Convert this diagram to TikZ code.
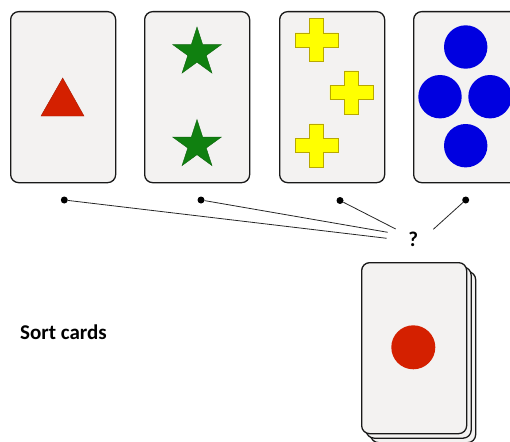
\documentclass[tikz,border=0pt]{standalone}
\usepackage{fontspec}
\setmainfont{Carlito}
\definecolor{cardfill}{HTML}{F3F2F1}
\definecolor{trired}{HTML}{D42000}
\definecolor{stargreen}{HTML}{108010}
\definecolor{crossyellow}{HTML}{FFFF00}
\definecolor{crossedge}{HTML}{B8A800}
\definecolor{dotblue}{HTML}{0000E0}
\newcommand\mystar[2]{\filldraw[starst] (#1,#2) +(-90:25.5) -- +(-54:9.7) -- +(-18:25.5) -- +(18:9.7) -- +(54:25.5) -- +(90:9.7) -- +(126:25.5) -- +(162:9.7) -- +(198:25.5) -- +(234:9.7) -- cycle;}
\newcommand\mycross[2]{\filldraw[crossst] (#1,#2) +(-7,-21.5) -- +(7,-21.5) -- +(7,-7) -- +(21.5,-7) -- +(21.5,7) -- +(7,7) -- +(7,21.5) -- +(-7,21.5) -- +(-7,7) -- +(-21.5,7) -- +(-21.5,-7) -- +(-7,-7) -- cycle;}
\begin{document}
\begin{tikzpicture}[x=1pt,y=-1pt,
  card/.style={draw=black!90, line width=1.3pt, fill=cardfill, rounded corners=8pt,
    minimum width=105pt, minimum height=171pt, inner sep=0pt, anchor=north west},
  starst/.style={fill=stargreen, draw=stargreen!80!black, line width=0.4pt},
  crossst/.style={fill=crossyellow, draw=crossedge, line width=0.6pt},
  tri/.style={fill=trired, draw=trired!80!black, line width=0.4pt},
  bluedot/.style={fill=dotblue},
  dot/.style={circle, fill=black, inner sep=0pt, minimum size=7pt},
  conn/.style={draw=black!85, line width=0.8pt},
  lbl/.style={font=\bfseries\fontsize{21}{21}\selectfont, inner sep=0pt}
]
\clip (0,0) rectangle (510,441);
% top cards
\node[card] (c1) at (10,11) {};
\node[card] (c2) at (144,11) {};
\node[card] (c3) at (279,11) {};
\node[card] (c4) at (413,11) {};
% card 1: triangle
\filldraw[tri] (62.7,78) -- (84,116) -- (41,116) -- cycle;
% card 2: stars
\mystar{197}{52.5}
\mystar{197}{145}
% card 3: crosses
\mycross{316.5}{40}
\mycross{351.3}{92.5}
\mycross{316.5}{145.3}
% card 4: circles
\fill[bluedot] (465.7,47) circle (21.7);
\fill[bluedot] (440,96.7) circle (21.7);
\fill[bluedot] (490,96.7) circle (21.7);
\fill[bluedot] (465.7,145.7) circle (21.7);
% dots and connectors
\node[dot] (d1) at (64.3,200) {};
\node[dot] (d2) at (201,200) {};
\node[dot] (d3) at (340,200.5) {};
\node[dot] (d4) at (465.7,200) {};
\node[lbl] (q) at (413.3,239) {?};
\coordinate (e1) at (386.7,238.3);
\coordinate (e2) at (387.7,232.3);
\coordinate (e3) at (395.7,229);
\coordinate (e4) at (433.3,229.3);
\draw[conn] (d1) -- (e1);
\draw[conn] (d2) -- (e2);
\draw[conn] (d3) -- (e3);
\draw[conn] (d4) -- (e4);
% deck
\node[card] (k3) at (370,271) {};
\node[card] (k2) at (365.5,266.5) {};
\node[card] (k1) at (361,262) {};
\fill[trired] (413.3,347.3) circle (22);
% label
\node[lbl, anchor=west] (sort) at (20,332.7) {Sort cards};
\end{tikzpicture}
\end{document}
